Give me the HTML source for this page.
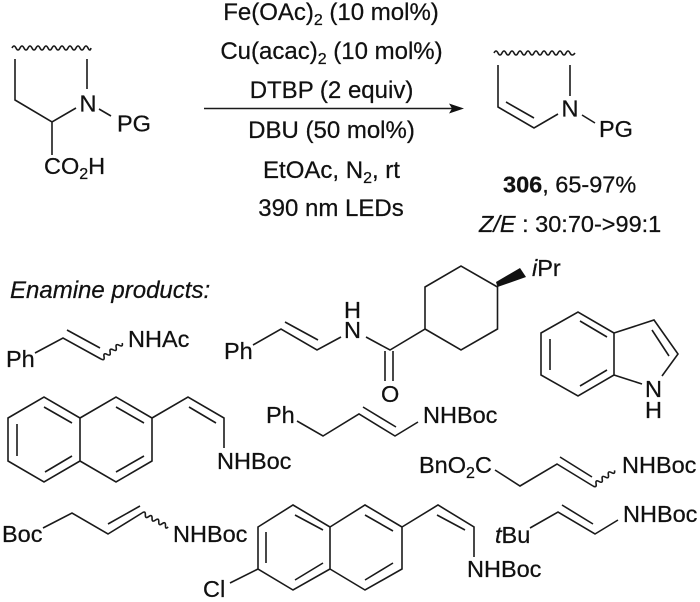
<!DOCTYPE html>
<html>
<head>
<meta charset="utf-8">
<style>
html,body{margin:0;padding:0;background:#fff;}
svg{display:block;}
text{font-family:"Liberation Sans",sans-serif;font-size:23.5px;fill:#111;stroke:#111;stroke-width:.25px;}
.m{text-anchor:middle;font-size:24px;}
.e{font-size:24px;}
.s{font-size:16px;}
</style>
</head>
<body>
<svg width="700" height="602" viewBox="0 0 700 602" xmlns="http://www.w3.org/2000/svg">
<g fill="none" stroke="#1a1a1a" stroke-width="1.600" stroke-linejoin="miter">
<!-- start material -->
<path d="M12 48q2-4 4 0t4 0t4 0t4 0t4 0t4 0t4 0t4 0t4 0t4 0t4 0t4 0t4 0t4 0t4 0t4 0t4 0t4 0t4 0t3 0"/>
<path d="M15 59V100L52 122L76 108M87 59V89M99 109L111 116M52 122V155"/>
<!-- arrow -->
<path d="M204 108.500H452"/>
<!-- product -->
<path d="M494 53q2-4 4 0t4 0t4 0t4 0t4 0t4 0t4 0t4 0t4 0t4 0t4 0t4 0t4 0t4 0t4 0t4 0t4 0t4 0t4 0t5 0"/>
<path d="M498 65V107L534 128L558 114M506 102L534 118M570 65V96M582 115L595 123"/>
<!-- Ph NHAc -->
<path d="M35 353L63 338L101 359M67 330L100 348"/>
<path transform="translate(101 359) rotate(-37)" d="M0 0q1.900 4 3.800 0t3.800 0t3.800 0t3.800 0t3.800 0t3.800 0t3.800 0"/>
<!-- amide -->
<path d="M253 345L281 329L317 350L341 337M285 322L318 340M366 337L390 350L425 329V287L461 266L497.500 287V329L461 350L425 329M385 351V381M393 351V381"/>
<!-- indole -->
<path d="M541 333L578 312L614 333V375L578 396L541 375ZM614 333L654 320L678 354L662 376M614 375L642 384M550 339V370M580 321L607 337M580 386L607 370M652 330L669 356"/>
<!-- naphthalene -->
<path d="M8 418L44 397L80 418V461L44 482L8 461ZM80 418L116 397L152 418V461L116 482L80 461M152 418L188 397L224 418V448M17 424V456M44 407L72 423M45 472L72 456M116 407L144 423M116 472L144 456M189 407L216 423"/>
<!-- Ph allyl -->
<path d="M297 421L323 436L359 414L395 436L418 422M363 407L396 427"/>
<!-- BnO2C -->
<path d="M495 470L520 486L557 464L593 486M560 457L592 477"/>
<path transform="translate(593 486) rotate(-36)" d="M0 0q1.900 4 3.800 0t3.800 0t3.800 0t3.800 0t3.800 0t3.800 0t3.800 0"/>
<!-- Boc -->
<path d="M43 528L72 513L108 534L142 513M108 524L140 506"/>
<path transform="translate(142 513) rotate(28)" d="M0 0q1.900-4 3.800 0t3.800 0t3.800 0t3.800 0t3.800 0t3.800 0t3.800 0t3 0"/>
<!-- Cl naphthalene -->
<path d="M258 527L293 505L330 527V569L293 590L258 569ZM330 527L365 505L402 527V569L365 590L330 569M402 527L438 505L474 527V557M258 569L230 583M266 532V563M295 515L323 530M295 580L323 563M365 515L393 531M365 580L393 563M437 515L465 530"/>
<!-- tBu -->
<path d="M530 528L558 512L595 534L618 520M562 505L593 524"/>
</g>
<path d="M464 108.500L449 103.500L452 108.500L449 113.500Z" fill="#111"/>
<path d="M497.500 287L496 282L520 268L526 277Z" fill="#111"/>

<text x="331" y="20" class="m">Fe(OAc)<tspan class="s" dy="5">2</tspan><tspan dy="-5"> (10 mol%)</tspan></text>
<text x="331.500" y="59" class="m">Cu(acac)<tspan class="s" dy="5">2</tspan><tspan dy="-5"> (10 mol%)</tspan></text>
<text x="331.500" y="98" class="m">DTBP (2 equiv)</text>
<text x="331.500" y="138" class="m">DBU (50 mol%)</text>
<text x="331.500" y="178" class="m">EtOAc, N<tspan class="s" dy="5">2</tspan><tspan dy="-5">, rt</tspan></text>
<text x="331" y="216" class="m">390 nm LEDs</text>

<text x="79.500" y="111.500">N</text>
<text x="117" y="131.500">PG</text>
<text x="44" y="174">CO<tspan class="s" dy="5">2</tspan><tspan dy="-5">H</tspan></text>

<text x="561.500" y="116.500">N</text>
<text x="599" y="137">PG</text>
<text x="503" y="192.500"><tspan font-weight="bold">306</tspan>, 65-97%</text>
<text x="479" y="232"><tspan font-style="italic">Z/E</tspan> : 30:70-&gt;99:1</text>

<text x="10" y="298" font-style="italic" class="e">Enamine products:</text>

<text x="6" y="367">Ph</text>
<text x="128" y="347">NHAc</text>
<text x="224" y="359">Ph</text>
<text x="344" y="318">H</text>
<text x="344" y="338">N</text>
<text x="381" y="402">O</text>
<text x="532" y="276"><tspan font-style="italic">i</tspan>Pr</text>
<text x="645" y="397">N</text>
<text x="645" y="418">H</text>

<text x="217" y="469">NHBoc</text>
<text x="266" y="423">Ph</text>
<text x="423" y="423">NHBoc</text>
<text x="419" y="473">BnO<tspan class="s" dy="5">2</tspan><tspan dy="-5">C</tspan></text>
<text x="622" y="473">NHBoc</text>
<text x="2" y="542">Boc</text>
<text x="173" y="542">NHBoc</text>
<text x="203" y="597">Cl</text>
<text x="467" y="577">NHBoc</text>
<text x="495" y="543"><tspan font-style="italic">t</tspan>Bu</text>
<text x="623" y="522">NHBoc</text>
</svg>
</body>
</html>
